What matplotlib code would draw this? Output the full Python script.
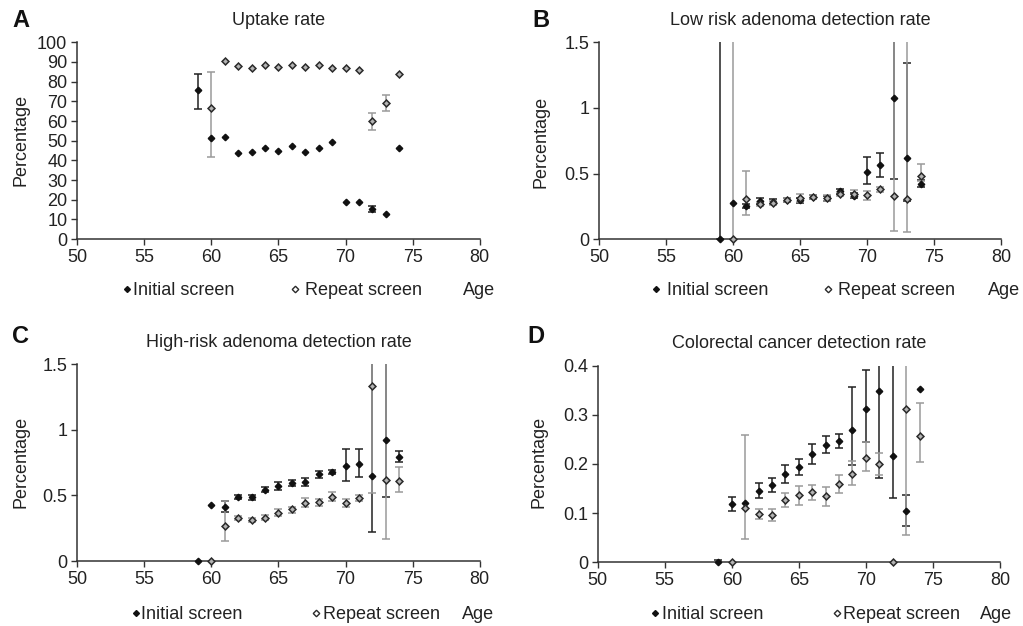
"""
Screening outcomes by age: uptake and detection rates, initial vs repeat screen.
"""

import matplotlib.pyplot as plt
from matplotlib.lines import Line2D
import numpy as np

plt.rcParams['font.family'] = ['Liberation Sans', 'DejaVu Sans']

nan = float("nan")

ages_init = list(range(59, 75))
ages_rep = list(range(60, 75))

# A: uptake rate (%)
uptake_init = [76.0, 51.5, 51.9, 43.6, 44.4, 46.3, 44.6, 47.3, 44.2, 46.3, 49.3, 18.8, 18.8, 15.4, 12.9, 46.4]
uptake_init_lo = [66.0, nan, nan, nan, nan, nan, nan, nan, nan, nan, nan, nan, nan, 13.9, nan, nan]
uptake_init_hi = [84.0, nan, nan, nan, nan, nan, nan, nan, nan, nan, nan, nan, nan, 16.9, nan, nan]
uptake_rep = [66.8, 90.3, 88.0, 86.8, 88.5, 87.6, 88.5, 87.6, 88.3, 86.8, 86.8, 86.1, 60.0, 69.3, 84.0]
uptake_rep_lo = [41.8, nan, nan, nan, nan, nan, nan, nan, nan, nan, nan, nan, 55.6, 65.1, nan]
uptake_rep_hi = [84.9, nan, nan, nan, nan, nan, nan, nan, nan, nan, nan, nan, 64.1, 73.4, nan]

# B: low risk adenoma detection rate (%)
lra_init = [0.0, 0.272, 0.254, 0.29, 0.285, 0.30, 0.295, 0.32, 0.31, 0.364, 0.33, 0.511, 0.562, 1.078, 0.618, 0.422]
lra_init_lo = [0.0, nan, 0.235, 0.27, 0.265, 0.285, 0.275, 0.305, 0.29, 0.345, 0.315, 0.42, 0.475, 0.46, 0.29, 0.395]
lra_init_hi = [3.0, nan, 0.27, 0.31, 0.305, 0.315, 0.315, 0.335, 0.33, 0.385, 0.35, 0.623, 0.658, 3.0, 1.345, 0.45]
lra_rep = [0.0, 0.307, 0.265, 0.275, 0.30, 0.313, 0.32, 0.315, 0.341, 0.346, 0.333, 0.379, 0.33, 0.305, 0.481]
lra_rep_lo = [0.0, 0.185, 0.25, 0.26, 0.285, 0.285, 0.305, 0.29, 0.325, 0.32, 0.30, 0.36, 0.061, 0.056, 0.44]
lra_rep_hi = [3.0, 0.519, 0.28, 0.29, 0.315, 0.345, 0.335, 0.34, 0.36, 0.375, 0.365, 0.40, 3.0, 3.0, 0.57]

# C: high-risk adenoma detection rate (%)
hra_init = [0.0, 0.427, 0.414, 0.488, 0.485, 0.544, 0.57, 0.593, 0.60, 0.661, 0.677, 0.722, 0.742, 0.646, 0.925, 0.793]
hra_init_lo = [nan, nan, 0.375, 0.47, 0.465, 0.525, 0.54, 0.57, 0.57, 0.635, 0.66, 0.61, 0.64, 0.22, 0.49, 0.755]
hra_init_hi = [nan, nan, 0.455, 0.505, 0.505, 0.565, 0.60, 0.615, 0.63, 0.69, 0.695, 0.852, 0.854, 3.0, 3.0, 0.84]
hra_rep = [0.0, 0.265, 0.328, 0.313, 0.33, 0.368, 0.394, 0.445, 0.448, 0.49, 0.442, 0.478, 1.333, 0.62, 0.61]
hra_rep_lo = [nan, 0.155, 0.31, 0.295, 0.31, 0.34, 0.37, 0.41, 0.42, 0.455, 0.41, 0.455, 0.519, 0.17, 0.526]
hra_rep_hi = [nan, 0.46, 0.345, 0.33, 0.35, 0.395, 0.415, 0.48, 0.475, 0.525, 0.475, 0.505, 3.0, 3.0, 0.715]

# D: colorectal cancer detection rate (%)
crc_init = [0.0, 0.118, 0.121, 0.146, 0.157, 0.179, 0.194, 0.22, 0.239, 0.247, 0.269, 0.311, 0.348, 0.216, 0.104, 0.353]
crc_init_lo = [-0.004, 0.104, nan, 0.131, 0.143, 0.161, 0.178, 0.199, 0.222, 0.233, 0.198, 0.245, 0.171, 0.131, 0.074, nan]
crc_init_hi = [0.004, 0.132, nan, 0.161, 0.171, 0.197, 0.21, 0.241, 0.256, 0.261, 0.357, 0.391, 1.0, 1.0, 0.136, nan]
crc_rep = [0.0, 0.111, 0.098, 0.096, 0.127, 0.136, 0.142, 0.134, 0.159, 0.18, 0.212, 0.20, 0.0, 0.311, 0.257]
crc_rep_lo = [nan, 0.047, 0.088, 0.083, 0.113, 0.117, 0.126, 0.115, 0.141, 0.157, 0.186, 0.178, nan, 0.055, 0.204]
crc_rep_hi = [nan, 0.259, 0.108, 0.109, 0.141, 0.156, 0.158, 0.154, 0.177, 0.207, 0.245, 0.223, nan, 1.0, 0.325]

x_ticks = [50, 55, 60, 65, 70, 75, 80]

panels = [
    dict(letter="A", title="Uptake rate", rect=[0.0753, 0.618, 0.3937, 0.3144],
         init=(uptake_init, uptake_init_lo, uptake_init_hi),
         rep=(uptake_rep, uptake_rep_lo, uptake_rep_hi),
         ylim=100, yticks=list(range(0, 101, 10)), ylabels=[str(v) for v in range(0, 101, 10)]),
    dict(letter="B", title="Low risk adenoma detection rate", rect=[0.5855, 0.618, 0.393, 0.3144],
         init=(lra_init, lra_init_lo, lra_init_hi),
         rep=(lra_rep, lra_rep_lo, lra_rep_hi),
         ylim=1.5, yticks=[0, 0.5, 1, 1.5], ylabels=["0", "0.5", "1", "1.5"]),
    dict(letter="C", title="High-risk adenoma detection rate", rect=[0.0753, 0.1038, 0.3937, 0.3142],
         init=(hra_init, hra_init_lo, hra_init_hi),
         rep=(hra_rep, hra_rep_lo, hra_rep_hi),
         ylim=1.5, yticks=[0, 0.5, 1, 1.5], ylabels=["0", "0.5", "1", "1.5"]),
    dict(letter="D", title="Colorectal cancer detection rate", rect=[0.5843, 0.1018, 0.3932, 0.314],
         init=(crc_init, crc_init_lo, crc_init_hi),
         rep=(crc_rep, crc_rep_lo, crc_rep_hi),
         ylim=0.4, yticks=[0, 0.1, 0.2, 0.3, 0.4], ylabels=["0", "0.1", "0.2", "0.3", "0.4"]),
]

# Figure-coordinate positions of the annotations (letter, ylabel, legend row)
letter_pos = [(0.012, 0.957), (0.52, 0.957), (0.012, 0.452), (0.516, 0.452)]
ylabel_pos = [(0.0205, 0.776), (0.5285, 0.774), (0.0205, 0.262), (0.527, 0.262)]
legend_pos = [
    (0.124, 0.130, 0.288, 0.298, 0.4526, 0.539, 0.5288),
    (0.641, 0.652, 0.809, 0.819, 0.966, 0.539, 0.5288),
    (0.133, 0.138, 0.309, 0.316, 0.4516, 0.0208, 0.0107),
    (0.640, 0.647, 0.818, 0.824, 0.958, 0.0208, 0.0107),
]

INIT_COLOR = "#111111"
INIT_ERR = "#222222"
REP_FACE = "#b4b4b4"
REP_EDGE = "#2a2a2a"
REP_ERR = "#9a9a9a"
AXIS_COLOR = "#333333"
FS = 13

fig = plt.figure(figsize=(10.23, 6.26), dpi=100)

for i, p in enumerate(panels):
    ax = fig.add_axes(p["rect"])

    vi, loi, hii = [np.array(a, dtype=float) for a in p["init"]]
    vr, lor, hir = [np.array(a, dtype=float) for a in p["rep"]]

    # Error bars first (clipped at the axes), then the markers on top
    ax.errorbar(ages_init, vi, yerr=[vi - loi, hii - vi], fmt="none",
                ecolor=INIT_ERR, elinewidth=1.1, capsize=2.8, capthick=1.1, zorder=2)
    ax.errorbar(ages_rep, vr, yerr=[vr - lor, hir - vr], fmt="none",
                ecolor=REP_ERR, elinewidth=1.1, capsize=2.8, capthick=1.1, zorder=2)
    ax.plot(ages_init, vi, "D", ms=3.3, color=INIT_COLOR, clip_on=False, zorder=4)
    ax.plot(ages_rep, vr, "D", ms=3.5, markerfacecolor=REP_FACE,
            markeredgecolor=REP_EDGE, markeredgewidth=1.1, clip_on=False, zorder=5)

    ax.set_xlim(50, 80)
    ax.set_ylim(0, p["ylim"])
    ax.set_xticks(x_ticks)
    ax.set_xticklabels([str(v) for v in x_ticks])
    ax.set_yticks(p["yticks"])
    ax.set_yticklabels(p["ylabels"])
    ax.tick_params(direction="out", length=4, width=1, colors=AXIS_COLOR,
                   labelsize=FS, labelcolor="#222222", pad=3)
    for side in ["top", "right"]:
        ax.spines[side].set_visible(False)
    for side in ["left", "bottom"]:
        ax.spines[side].set_color(AXIS_COLOR)
        ax.spines[side].set_linewidth(1.1)

    ax.set_title(p["title"], fontsize=FS, color="#222222", pad=12.5)

    lx, ly = letter_pos[i]
    fig.text(lx, ly, p["letter"], fontsize=17, fontweight="bold", color="#111111", va="baseline")
    yx, yy = ylabel_pos[i]
    fig.text(yx, yy, "Percentage", fontsize=FS, rotation=90, ha="center", va="center", color="#222222")

    # Legend row below the axis: marker + label, then "Age"
    mi, ti, mr, tr, ta, my, ty = legend_pos[i]
    fig.add_artist(Line2D([mi], [my], marker="D", ms=3.0, color=INIT_COLOR,
                          linestyle="none", transform=fig.transFigure))
    fig.add_artist(Line2D([mr], [my], marker="D", ms=3.3, markerfacecolor="white",
                          markeredgecolor=REP_EDGE, markeredgewidth=1.0,
                          linestyle="none", transform=fig.transFigure))
    fig.text(ti, ty, "Initial screen", fontsize=FS, va="baseline", color="#222222")
    fig.text(tr, ty, "Repeat screen", fontsize=FS, va="baseline", color="#222222")
    fig.text(ta, ty, "Age", fontsize=FS, va="baseline", color="#222222")

plt.savefig("out.png", dpi=100)
